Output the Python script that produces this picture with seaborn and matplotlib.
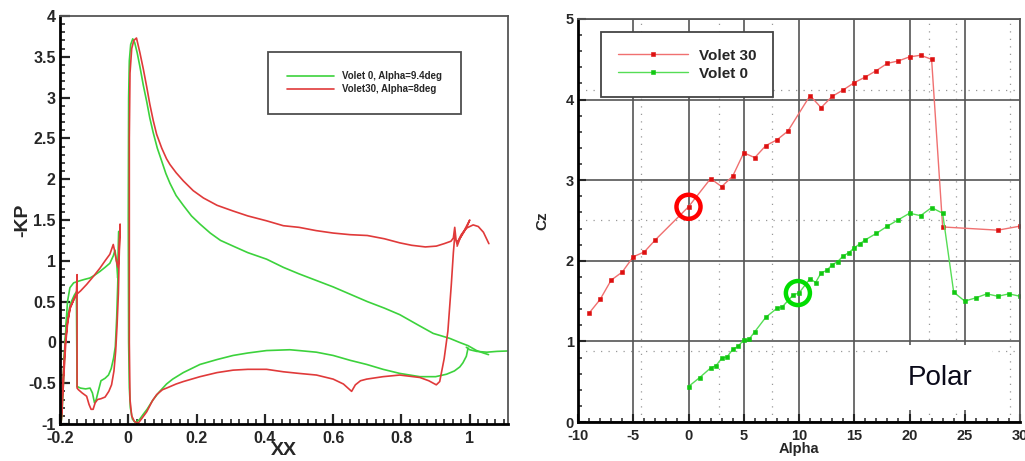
import matplotlib
matplotlib.use("Agg")
import matplotlib.pyplot as plt
import seaborn as sns
import pandas as pd
from matplotlib.ticker import MultipleLocator, FuncFormatter

# ---------------- Left chart data: -KP vs XX ----------------
g_slat_x = [-0.197, -0.191, -0.186, -0.180, -0.170, -0.158, -0.152, -0.150, -0.140, -0.125, -0.112,
            -0.105, -0.099, -0.094, -0.088, -0.080, -0.068, -0.058, -0.050, -0.043, -0.038, -0.034,
            -0.031, -0.029, -0.028, -0.029, -0.031, -0.034, -0.039, -0.044, -0.054, -0.068, -0.083,
            -0.100, -0.112, -0.130, -0.146, -0.160, -0.171, -0.178, -0.182, -0.186, -0.190, -0.194, -0.197]
g_slat_y = [-1.00, -0.45, -0.05, 0.25, 0.47, 0.58, 0.62, -0.54, -0.56, -0.57, -0.56,
            -0.62, -0.74, -0.70, -0.60, -0.47, -0.44, -0.40, -0.32, -0.19, -0.05, 0.30,
            0.70, 1.05, 1.36, 0.95, 0.79, 0.98, 1.13, 1.06, 0.97, 0.92, 0.87,
            0.82, 0.79, 0.77, 0.75, 0.73, 0.67, 0.50, 0.25, -0.10, -0.50, -0.85, -1.00]

g_main_x = [0.995, 0.990, 0.980, 0.971, 0.955, 0.932, 0.900, 0.854, 0.795, 0.746, 0.698, 0.650,
            0.600, 0.551, 0.500, 0.473, 0.405, 0.350, 0.307, 0.260, 0.210, 0.161, 0.130, 0.112,
            0.090, 0.073, 0.055, 0.044, 0.032, 0.020, 0.012, 0.006, 0.003, 0.001, 0.000, 0.001,
            0.003, 0.007, 0.013, 0.019, 0.026, 0.034, 0.044, 0.054, 0.063, 0.073, 0.085, 0.098,
            0.110, 0.122, 0.140, 0.161, 0.185, 0.210, 0.240, 0.270, 0.307, 0.350, 0.405, 0.454,
            0.500, 0.550, 0.600, 0.650, 0.700, 0.750, 0.795, 0.850, 0.893, 0.941, 0.970, 0.995,
            1.020, 1.040, 1.055]
g_main_y = [-0.07, -0.17, -0.25, -0.30, -0.35, -0.39, -0.42, -0.42, -0.38, -0.33, -0.27, -0.22,
            -0.16, -0.12, -0.10, -0.09, -0.10, -0.13, -0.16, -0.21, -0.27, -0.37, -0.45, -0.51,
            -0.61, -0.70, -0.82, -0.88, -0.95, -0.98, -0.94, -0.80, -0.55, 0.00, 1.50, 3.00,
            3.45, 3.65, 3.72, 3.67, 3.55, 3.38, 3.15, 2.95, 2.75, 2.57, 2.38, 2.22,
            2.07, 1.95, 1.80, 1.68, 1.55, 1.45, 1.34, 1.25, 1.18, 1.10, 1.02, 0.92,
            0.84, 0.76, 0.68, 0.59, 0.50, 0.42, 0.34, 0.21, 0.11, 0.05, 0.00, -0.04,
            -0.10, -0.13, -0.15]

g_flap_x = [0.990, 1.000, 1.020, 1.050, 1.080, 1.112]
g_flap_y = [-0.06, -0.09, -0.11, -0.12, -0.11, -0.105]

r_slat_x = [-0.197, -0.193, -0.189, -0.185, -0.178, -0.170, -0.160, -0.152, -0.150, -0.150, -0.146,
            -0.135, -0.122, -0.115, -0.109, -0.103, -0.097, -0.090, -0.080, -0.068, -0.057, -0.049,
            -0.042, -0.037, -0.033, -0.029, -0.027, -0.024, -0.027, -0.030, -0.035, -0.040, -0.044,
            -0.054, -0.068, -0.083, -0.100, -0.122, -0.140, -0.151, -0.160, -0.171, -0.178, -0.183,
            -0.188, -0.193, -0.197]
r_slat_y = [-1.00, -0.60, -0.30, -0.03, 0.25, 0.42, 0.52, 0.60, 0.83, -0.56, -0.58,
            -0.62, -0.66, -0.76, -0.82, -0.82, -0.74, -0.70, -0.69, -0.67, -0.60, -0.52,
            -0.35, -0.11, 0.20, 0.60, 1.00, 1.45, 1.10, 0.92, 1.00, 1.12, 1.20,
            1.08, 1.00, 0.91, 0.82, 0.71, 0.63, 0.59, 0.52, 0.42, 0.22, 0.00,
            -0.35, -0.75, -1.00]

r_main_x = [0.956, 0.952, 0.946, 0.936, 0.925, 0.912, 0.902, 0.880, 0.854, 0.795, 0.746, 0.698,
            0.680, 0.665, 0.654, 0.630, 0.600, 0.551, 0.500, 0.454, 0.405, 0.350, 0.307, 0.260,
            0.210, 0.161, 0.140, 0.112, 0.100, 0.083, 0.070, 0.054, 0.040, 0.029, 0.018, 0.010,
            0.005, 0.003, 0.003, 0.005, 0.010, 0.016, 0.024, 0.034, 0.044, 0.054, 0.063, 0.073,
            0.083, 0.098, 0.112, 0.122, 0.140, 0.161, 0.190, 0.220, 0.260, 0.307, 0.350, 0.405,
            0.454, 0.500, 0.550, 0.600, 0.650, 0.700, 0.750, 0.795, 0.830, 0.870, 0.902, 0.925,
            0.945, 0.952, 0.956, 0.960, 0.963]
r_main_y = [1.30, 1.10, 0.71, 0.14, -0.20, -0.48, -0.52, -0.47, -0.43, -0.40, -0.42, -0.45,
            -0.47, -0.52, -0.60, -0.51, -0.45, -0.40, -0.38, -0.36, -0.33, -0.33, -0.34, -0.37,
            -0.42, -0.48, -0.51, -0.56, -0.58, -0.64, -0.72, -0.85, -0.93, -0.99, -0.97, -0.90,
            -0.70, 0.00, 2.50, 3.30, 3.60, 3.70, 3.73, 3.55, 3.35, 3.13, 2.92, 2.72,
            2.55, 2.38, 2.25, 2.18, 2.08, 1.98, 1.86, 1.77, 1.68, 1.61, 1.55, 1.49,
            1.43, 1.41, 1.37, 1.34, 1.32, 1.31, 1.27, 1.22, 1.19, 1.17, 1.18, 1.21,
            1.24, 1.28, 1.41, 1.25, 1.20]

r_flap_x = [0.963, 0.972, 0.985, 1.000, 0.990, 0.975, 0.963, 0.975, 0.990, 1.010, 1.025, 1.040, 1.056]
r_flap_y = [1.18, 1.28, 1.38, 1.50, 1.40, 1.30, 1.22, 1.32, 1.40, 1.44, 1.42, 1.35, 1.21]

left_labels = ["Volet 0, Alpha=9.4deg", "Volet30, Alpha=8deg"]

# ---------------- Right chart data: Polar ----------------
alpha_30 = [-9, -8, -7, -6, -5, -4, -3, 0, 2, 3, 4, 5, 6, 7, 8, 9, 11, 12, 13, 14, 15, 16, 17,
            18, 19, 20, 21, 22, 23, 28, 30]
cz_30 = [1.35, 1.52, 1.76, 1.86, 2.05, 2.11, 2.26, 2.67, 3.02, 2.92, 3.05, 3.34, 3.28, 3.43, 3.50,
         3.61, 4.05, 3.90, 4.04, 4.12, 4.21, 4.28, 4.36, 4.45, 4.48, 4.53, 4.55, 4.50, 2.42, 2.38, 2.43]
alpha_0 = [0, 1, 2, 2.5, 3, 3.5, 4, 4.5, 5, 5.5, 6, 7, 8, 8.5, 9.5, 10, 11, 11.5, 12, 12.5, 13,
           13.5, 14, 14.5, 15, 15.5, 16, 17, 18, 19, 20, 21, 22, 23, 24, 25, 26, 27, 28, 29, 30]
cz_0 = [0.44, 0.55, 0.67, 0.70, 0.79, 0.81, 0.90, 0.94, 1.02, 1.03, 1.12, 1.30, 1.41, 1.43, 1.58,
        1.60, 1.78, 1.73, 1.85, 1.88, 1.95, 1.99, 2.06, 2.10, 2.16, 2.21, 2.26, 2.34, 2.43, 2.51,
        2.59, 2.56, 2.66, 2.59, 1.61, 1.50, 1.54, 1.59, 1.56, 1.59, 1.56]
right_labels = ["Volet 30", "Volet 0"]
circle_alpha = [0, 9.9]
circle_cz = [2.67, 1.60]
dot_x = [-4.3, 2.8, 7.6, 21.8, 24.2, 29.1]
dot_y = [0.88, 2.5, 4.12]

# ---------------- Style ----------------
sns.set_style("white")
plt.rcParams["font.family"] = ["Liberation Sans", "DejaVu Sans"]
plt.rcParams["font.weight"] = "bold"

GREEN = "#3cd23c"
RED = "#e03a3a"

fig = plt.figure(figsize=(10.25, 4.61), dpi=100)
axL = fig.add_axes([60 / 1025, 1 - 424 / 461, 448 / 1025, 408 / 461])
axR = fig.add_axes([578 / 1025, 1 - 422 / 461, 442 / 1025, 403 / 461])


def seg(ax, x, y, color, lw, label=None):
    df = pd.DataFrame({"x": x, "y": y})
    sns.lineplot(data=df, x="x", y="y", sort=False, estimator=None, color=color,
                 lw=lw, ax=ax, label=label, legend=False)


seg(axL, g_slat_x, g_slat_y, GREEN, 1.2)
seg(axL, g_main_x, g_main_y, GREEN, 1.2, label=left_labels[0])
seg(axL, g_flap_x, g_flap_y, GREEN, 1.2)
seg(axL, r_slat_x, r_slat_y, RED, 1.2)
seg(axL, r_main_x, r_main_y, RED, 1.2, label=left_labels[1])
seg(axL, r_flap_x, r_flap_y, RED, 1.2)

axL.set_xlim(-0.2, 1.112)
axL.set_ylim(-1, 4)
axL.xaxis.set_major_locator(MultipleLocator(0.2))
axL.xaxis.set_minor_locator(MultipleLocator(0.025))
axL.yaxis.set_major_locator(MultipleLocator(0.5))
axL.yaxis.set_minor_locator(MultipleLocator(0.1))
fmt = FuncFormatter(lambda v, p: f"{v:g}")
axL.xaxis.set_major_formatter(fmt)
axL.yaxis.set_major_formatter(fmt)
axL.tick_params(which="major", direction="in", length=7, width=1.6, labelsize=11.5, pad=3,
                bottom=True, left=True)
axL.tick_params(axis="x", which="major", pad=5)
axL.tick_params(which="minor", direction="in", length=3.5, width=1.2, bottom=True, left=True)
axL.set_xlabel("XX", fontsize=14, fontweight="bold", labelpad=-3)
axL.set_ylabel("-KP", fontsize=14, fontweight="bold", labelpad=-2)
for s in ["left", "bottom"]:
    axL.spines[s].set_linewidth(2)
    axL.spines[s].set_color("black")
for s in ["top", "right"]:
    axL.spines[s].set_linewidth(1.3)
    axL.spines[s].set_color("#555555")
hL, lL = axL.get_legend_handles_labels()
legL = axL.legend(hL, lL, loc="upper left", bbox_to_anchor=(0.464, 0.912), fontsize=7,
                  frameon=True, fancybox=False, edgecolor="#222222", handlelength=4.8,
                  handletextpad=0.8, labelspacing=0.3, borderpad=2.0, borderaxespad=0)
legL.get_frame().set_linewidth(1.3)

# ---------------- Right chart ----------------
for x in dot_x:
    axR.axvline(x, color="#999999", lw=0.9, ls=(0, (1, 5)), zorder=0.5)
for y in dot_y:
    axR.axhline(y, color="#999999", lw=0.9, ls=(0, (1, 5)), zorder=0.5)
axR.grid(True, which="major", color="#555555", lw=1.2, zorder=0.6)
axR.set_axisbelow(True)

df30 = pd.DataFrame({"Alpha": alpha_30, "Cz": cz_30})
df0 = pd.DataFrame({"Alpha": alpha_0, "Cz": cz_0})
sns.lineplot(data=df30, x="Alpha", y="Cz", ax=axR, color="#f07070", lw=1.0, marker="s",
             markersize=3.2, markerfacecolor="#dd1010", markeredgecolor="#dd1010", mew=0.4,
             label=right_labels[0], legend=False, estimator=None)
sns.lineplot(data=df0, x="Alpha", y="Cz", ax=axR, color="#55dd55", lw=1.0, marker="s",
             markersize=3.2, markerfacecolor="#11c811", markeredgecolor="#11c811", mew=0.4,
             label=right_labels[1], legend=False, estimator=None)
sns.scatterplot(x=circle_alpha[:1], y=circle_cz[:1], ax=axR, s=300, facecolor="none",
                edgecolor="#ff0000", linewidth=3.2, zorder=5, legend=False)
sns.scatterplot(x=circle_alpha[1:], y=circle_cz[1:], ax=axR, s=300, facecolor="none",
                edgecolor="#00dd00", linewidth=3.2, zorder=5, legend=False)

axR.set_xlim(-10, 30)
axR.set_ylim(0, 5)
axR.xaxis.set_major_locator(MultipleLocator(5))
axR.xaxis.set_minor_locator(MultipleLocator(1))
axR.yaxis.set_major_locator(MultipleLocator(1))
axR.yaxis.set_minor_locator(MultipleLocator(0.2))
axR.xaxis.set_major_formatter(fmt)
axR.yaxis.set_major_formatter(fmt)
axR.tick_params(which="major", direction="in", length=6, width=1.5, labelsize=10.5, pad=3,
                bottom=True, left=True)
axR.tick_params(axis="x", which="major", pad=5)
axR.tick_params(which="minor", direction="in", length=3, width=1.1, bottom=True, left=True)
axR.set_xlabel("Alpha", fontsize=10.5, fontweight="bold", labelpad=-1)
axR.set_ylabel("Cz", fontsize=11, fontweight="bold", labelpad=12)
for s in ["left", "bottom"]:
    axR.spines[s].set_linewidth(2)
    axR.spines[s].set_color("black")
for s in ["top", "right"]:
    axR.spines[s].set_linewidth(1.3)
    axR.spines[s].set_color("#555555")

hR, lR = axR.get_legend_handles_labels()
legR = axR.legend(hR, lR, loc="upper left", bbox_to_anchor=(0.052, 0.968), fontsize=11,
                  frameon=True, fancybox=False, edgecolor="#444444", handlelength=4.6,
                  handletextpad=0.7, labelspacing=0.25, borderpad=1.1, borderaxespad=0,
                  numpoints=1, framealpha=1)
legR.get_frame().set_linewidth(1.3)
legR.set_zorder(10)

axR.text(22.8, 0.55, "Polar", fontsize=20, fontweight="normal", color="#0a0a1a",
         ha="center", va="center", zorder=8,
         bbox=dict(facecolor="white", edgecolor="none", pad=14))

fig.savefig("out.png", dpi=100, facecolor="white")
